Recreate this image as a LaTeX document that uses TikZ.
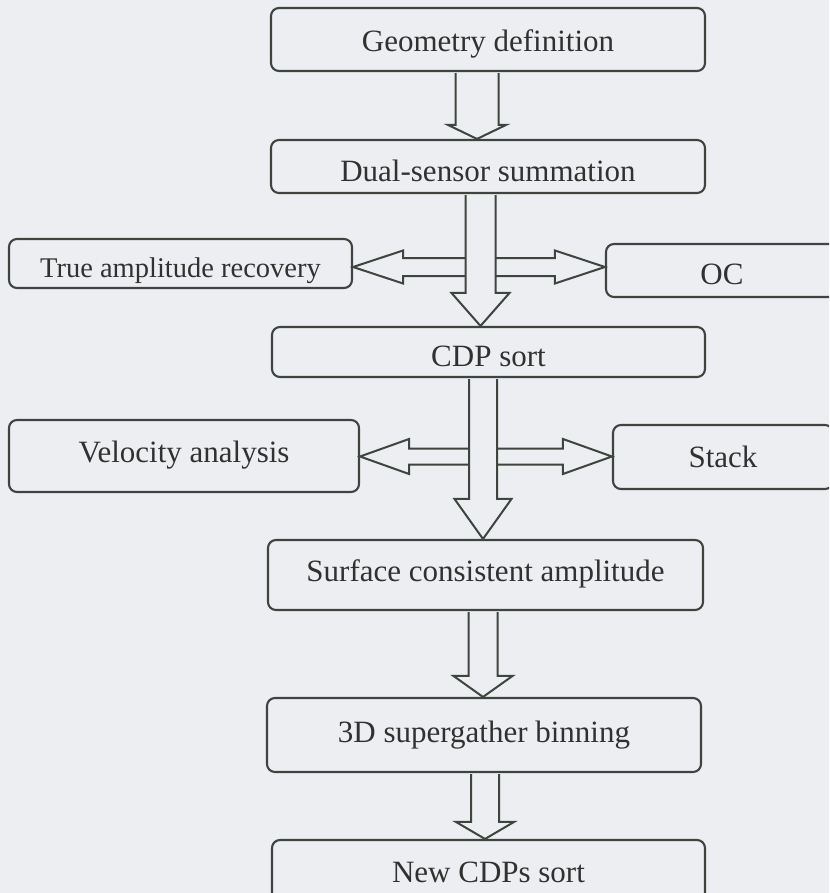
\documentclass[tikz,border=0pt]{standalone}
\usepackage{fontspec}
\setmainfont{Liberation Serif}
\usetikzlibrary{positioning,calc}

\definecolor{paper}{RGB}{236,238,242}
\definecolor{ink}{RGB}{62,68,62}
\definecolor{txt}{RGB}{48,50,48}

\newcommand{\downblock}[6]{%
  \draw[blockarrow] let \p1=(#1.south), \p2=(#2.north) in
    (#3pt-#4pt,\y1-1pt) -- (#3pt-#4pt,\y2+#6pt) -- (#3pt-#5pt,\y2+#6pt) -- (#3pt,\y2)
    -- (#3pt+#5pt,\y2+#6pt) -- (#3pt+#4pt,\y2+#6pt) -- (#3pt+#4pt,\y1-1pt);}
\newcommand{\sideblock}[5]{%
  \draw[blockarrow] let \p1=(#1.east), \p2=(#2.west), \p3=($(\p1)!.5!(\p2)$) in
    (\x1,\y3) -- (\x1+#5pt,\y3+#4pt) -- (\x1+#5pt,\y3+#3pt) -- (\x2-#5pt,\y3+#3pt)
    -- (\x2-#5pt,\y3+#4pt) -- (\x2,\y3) -- (\x2-#5pt,\y3-#4pt) -- (\x2-#5pt,\y3-#3pt)
    -- (\x1+#5pt,\y3-#3pt) -- (\x1+#5pt,\y3-#4pt) -- cycle;}

\begin{document}
\begin{tikzpicture}[x=1pt,y=-1pt,
        stepbox/.style={rectangle,rounded corners=8pt,draw=ink,line width=2.1pt,
          text=txt,font=\fontsize{31}{36}\selectfont,inner sep=0pt,
          text height=20.5pt,text depth=0pt},
        blockarrow/.style={draw=ink,fill=paper,line width=2pt,line join=miter}]
      \useasboundingbox (0,0) rectangle (829,893);
      \clip (0,0) rectangle (829,893);
      \fill[paper] (0,0) rectangle (829,893);
      \node (geo) at (488,39.5) [stepbox,minimum width=434,minimum height=63,text height=25pt] {Geometry definition};
      \node (dual) at (488,166.5) [stepbox,minimum width=434,minimum height=53,text height=30pt] {Dual-sensor summation};
      \node (tar) at (180.5,263.5) [stepbox,minimum width=343,minimum height=49,
        font=\fontsize{28.5}{34}\selectfont,text height=27pt] {True amplitude recovery};
      \node (oc) at (722,270.5) [stepbox,minimum width=232,minimum height=53,text height=28pt] {OC};
      \node (cdp) at (488.5,352) [stepbox,minimum width=433,minimum height=50,text height=29pt] {CDP sort};
      \node (vel) at (184,456) [stepbox,minimum width=350,minimum height=72,text height=13pt] {Velocity analysis};
      \node (stack) at (723,457) [stepbox,minimum width=220,minimum height=64] {Stack};
      \node (surf) at (485.5,575) [stepbox,minimum width=435,minimum height=70,text height=13pt] {Surface consistent amplitude};
      \node (bin) at (484,735) [stepbox,minimum width=434,minimum height=74,text height=14pt] {3D supergather binning};
      \node (new) at (488.5,872) [stepbox,minimum width=433,minimum height=64] {New CDPs sort};
      \sideblock{tar}{oc}{9}{16.5}{50}
      \sideblock{vel}{stack}{8}{17.5}{49}
      \downblock{geo}{dual}{477}{21.5}{29}{14}
      \downblock{dual}{cdp}{480.5}{15}{29}{33}
      \downblock{cdp}{surf}{483}{14}{28.5}{40}
      \downblock{surf}{bin}{483}{14.5}{29.5}{21}
      \downblock{bin}{new}{485}{14}{29}{17}
    \end{tikzpicture}
\end{document}
